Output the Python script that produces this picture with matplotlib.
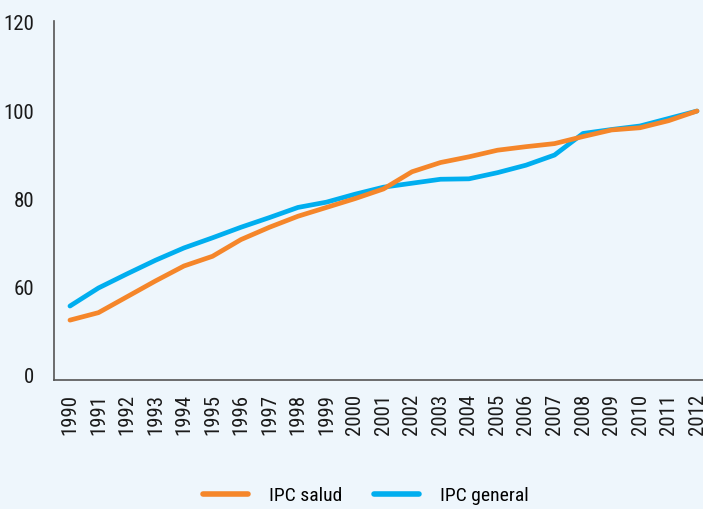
import matplotlib
matplotlib.use('Agg')
import matplotlib.pyplot as plt

plt.rcParams['font.family'] = ['Roboto Condensed', 'Liberation Sans Narrow',
                               'DejaVu Sans', 'Liberation Sans']
plt.rcParams['font.stretch'] = 'condensed'

years = list(range(1990, 2013))
ipc_salud = [52.5, 54.2, 57.8, 61.4, 64.8, 67.0, 70.8, 73.6, 76.1, 78.1, 80.1,
             82.3, 86.2, 88.3, 89.6, 91.1, 91.9, 92.6, 94.2, 95.7, 96.2, 97.8, 100.0]
ipc_general = [55.7, 59.8, 63.0, 66.1, 68.9, 71.2, 73.6, 75.8, 78.1, 79.3, 81.1,
               82.7, 83.6, 84.5, 84.6, 86.0, 87.7, 90.0, 94.9, 95.8, 96.6, 98.3, 100.0]
# the axis is cut: bottom label reads 0 but sits at 40
ytick_vals = [40, 60, 80, 100, 120]
ytick_labels = ['0', '60', '80', '100', '120']

bg = '#EEF6FC'
orange = '#F5862A'
blue = '#00AEEF'

fig = plt.figure(figsize=(7.03, 5.09), dpi=100, facecolor=bg)
ax = fig.add_axes([54 / 703, 1 - 380 / 509, 1 - 54 / 703, (380 - 21) / 509])
ax.set_facecolor(bg)

ax.plot(years, ipc_general, color=blue, lw=3.4, solid_capstyle='round',
        solid_joinstyle='round', label='IPC general')
ax.plot(years, ipc_salud, color=orange, lw=3.4, solid_capstyle='round',
        solid_joinstyle='round', label='IPC salud')

ax.set_xlim(1989.44, 2012.21)
ax.set_ylim(38.9, 120.45)
ax.set_yticks(ytick_vals)
ax.set_yticklabels(ytick_labels)
ax.set_xticks(years)
ax.set_xticklabels([str(y) for y in years], rotation=90)
ax.tick_params(axis='y', length=0, pad=14, labelsize=15, colors='#1a1a1a')
ax.tick_params(axis='x', length=0, pad=10, labelsize=15, colors='#1a1a1a')

for s in ['top', 'right']:
    ax.spines[s].set_visible(False)
for s in ['left', 'bottom']:
    ax.spines[s].set_color('#555555')
    ax.spines[s].set_linewidth(1.2)

handles, labels = ax.get_legend_handles_labels()
leg = fig.legend(handles[::-1], labels[::-1], loc='center',
                 bbox_to_anchor=(366 / 703, 1 - 496 / 509), ncol=2, frameon=False,
                 fontsize=14, handlelength=2.3, columnspacing=1.6, handletextpad=1.1)
for line in leg.get_lines():
    line.set_linewidth(4)

fig.savefig('out.png', dpi=100, facecolor=bg)
